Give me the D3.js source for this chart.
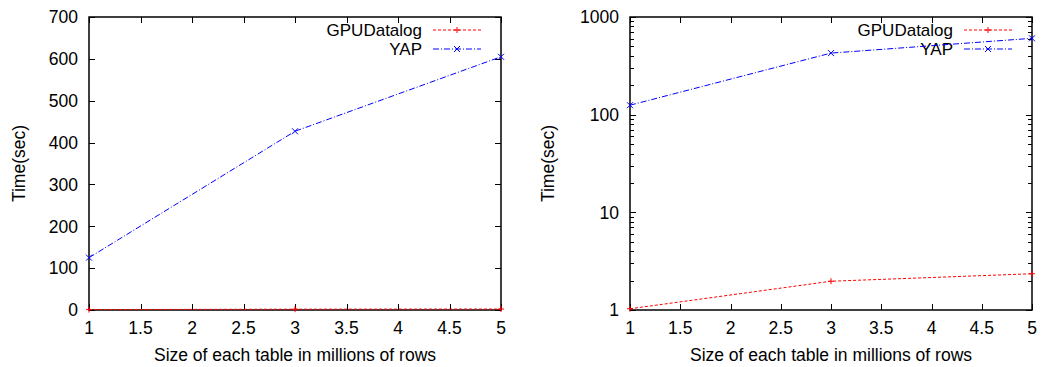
<!DOCTYPE html>
<html>
<head>
<meta charset="utf-8">
<script src="https://cdn.jsdelivr.net/npm/d3@7"></script>
<style>
  body { margin: 0; background: #fff; }
  text { font-family: "Liberation Sans", Arial, sans-serif; fill: #000; }
</style>
</head>
<body>
<svg id="chart" width="1043" height="367"></svg>
<script>
const sizes = [1, 3, 5];
const gpuDatalogTimes = [1.03, 1.97, 2.35];
const yapTimes = [125, 427, 605];
const xTicks = [1, 1.5, 2, 2.5, 3, 3.5, 4, 4.5, 5];
const linearTicks = [0, 100, 200, 300, 400, 500, 600, 700];
const logTicks = [1, 10, 100, 1000];

const series = [
  { name: 'GPUDatalog', values: gpuDatalogTimes, color: '#ff0000', dash: '3,2', marker: 'plus' },
  { name: 'YAP', values: yapTimes, color: '#0000ff', dash: '6,2,1,2', marker: 'cross' }
];

const FONT_SIZE = 17.5;
const LEGEND_FONT_SIZE = 17;
const TOP = 17, BOTTOM = 310;
const svg = d3.select('#chart');

function marker(g, kind, x, y, color) {
  const s = 3;
  if (kind === 'plus') {
    g.append('path').attr('d', `M${x - s},${y}H${x + s}M${x},${y - s}V${y + s}`)
      .attr('stroke', color).attr('stroke-width', 1);
  } else {
    g.append('path').attr('d', `M${x - s},${y - s}L${x + s},${y + s}M${x - s},${y + s}L${x + s},${y - s}`)
      .attr('stroke', color).attr('stroke-width', 1);
  }
}

function drawPanel(left, right, yScaleType, yTitleX) {
  const g = svg.append('g');
  const x = d3.scaleLinear().domain([1, 5]).range([left, right]);
  const y = yScaleType === 'log'
    ? d3.scaleLog().domain([1, 1000]).range([BOTTOM, TOP])
    : d3.scaleLinear().domain([0, 700]).range([BOTTOM, TOP]);
  const yTicks = yScaleType === 'log' ? logTicks : linearTicks;

  // x ticks (bottom and mirrored top)
  xTicks.forEach(t => {
    const px = Math.round(x(t)) + 0.5;
    g.append('path').attr('d', `M${px},${BOTTOM}v-6M${px},${TOP}v6`)
      .attr('stroke', '#000').attr('stroke-width', 1);
    g.append('text').attr('x', x(t)).attr('y', BOTTOM + 24)
      .attr('text-anchor', 'middle').attr('font-size', FONT_SIZE).text(t);
  });

  // y ticks (left and mirrored right)
  yTicks.forEach(t => {
    const py = Math.round(y(t)) + 0.5;
    g.append('path').attr('d', `M${left},${py}h6M${right},${py}h-6`)
      .attr('stroke', '#000').attr('stroke-width', 1);
    g.append('text').attr('x', left - 11).attr('y', y(t) + 6.3)
      .attr('text-anchor', 'end').attr('font-size', FONT_SIZE).text(t);
  });

  if (yScaleType === 'log') {
    [1, 10, 100].forEach(d => {
      d3.range(2, 10).forEach(m => {
        const py = Math.round(y(d * m)) + 0.5;
        g.append('path').attr('d', `M${left},${py}h4M${right},${py}h-4`)
          .attr('stroke', '#000').attr('stroke-width', 1);
      });
    });
  }

  // frame
  g.append('rect').attr('x', left).attr('y', TOP)
    .attr('width', right - left).attr('height', BOTTOM - TOP)
    .attr('fill', 'none').attr('stroke', '#000').attr('stroke-width', 1.5);

  // axis titles
  g.append('text').attr('x', (left + right) / 2).attr('y', BOTTOM + 51)
    .attr('text-anchor', 'middle').attr('font-size', FONT_SIZE)
    .text('Size of each table in millions of rows');
  g.append('text')
    .attr('transform', `translate(${yTitleX},${(TOP + BOTTOM) / 2}) rotate(-90)`)
    .attr('text-anchor', 'middle').attr('font-size', FONT_SIZE)
    .text('Time(sec)');

  // legend
  const legendTextX = right - 79;
  series.forEach((s, i) => {
    const ly = 30 + i * 19;
    g.append('text').attr('x', legendTextX).attr('y', ly + 6.2)
      .attr('text-anchor', 'end').attr('font-size', LEGEND_FONT_SIZE).text(s.name);
    g.append('line').attr('x1', legendTextX + 11).attr('x2', legendTextX + 59)
      .attr('y1', ly).attr('y2', ly)
      .attr('stroke', s.color).attr('stroke-dasharray', s.dash);
    marker(g, s.marker, legendTextX + 35, ly, s.color);
  });

  // data lines
  const line = d3.line().x(d => x(d[0])).y(d => y(d[1]));
  series.forEach(s => {
    const pts = sizes.map((v, i) => [v, s.values[i]]);
    g.append('path').datum(pts).attr('d', line)
      .attr('fill', 'none').attr('stroke', s.color).attr('stroke-width', 1)
      .attr('stroke-dasharray', s.dash);
    pts.forEach(p => marker(g, s.marker, x(p[0]), y(p[1]), s.color));
  });
}

drawPanel(89, 501, 'linear', 25);
drawPanel(630, 1032, 'log', 554);
</script>
</body>
</html>
